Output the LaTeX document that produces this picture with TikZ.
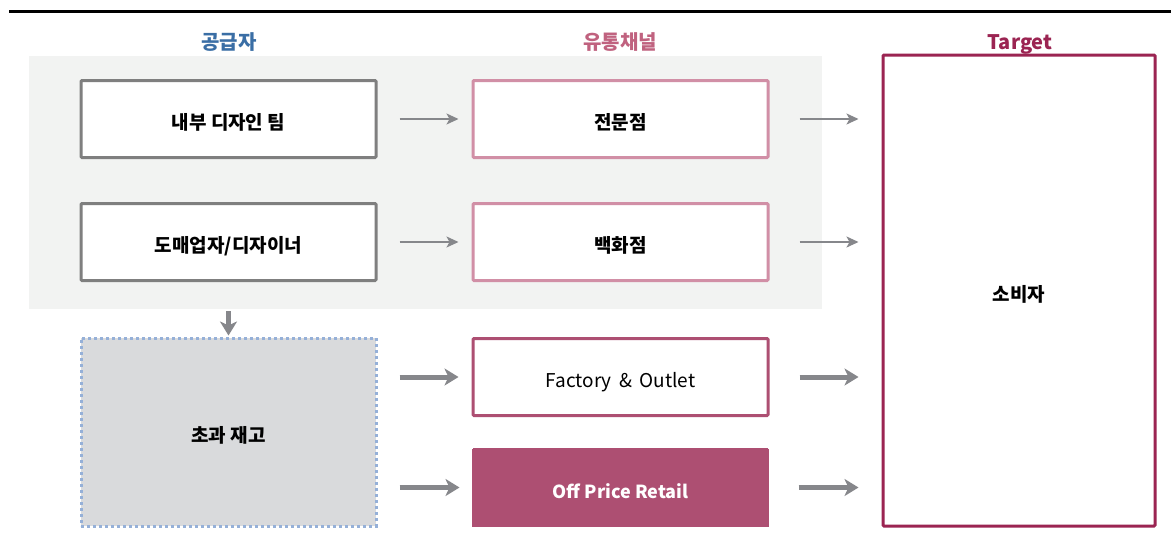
\documentclass[tikz,border=0pt]{standalone}
\usepackage{fontspec}
\setmainfont{Noto Sans CJK KR}
\usetikzlibrary{arrows.meta}
\definecolor{panelbg}{HTML}{F2F3F2}
\definecolor{graybd}{HTML}{7F7F7F}
\definecolor{pinklt}{HTML}{D18FA6}
\definecolor{pinkmd}{HTML}{AD4F72}
\definecolor{wine}{HTML}{9B2452}
\definecolor{titleblue}{HTML}{3A6EA5}
\definecolor{titlepink}{HTML}{C0627F}
\definecolor{stockfill}{HTML}{D9DADC}
\definecolor{dotblue}{HTML}{95B0D8}
\definecolor{arrowgray}{HTML}{86878B}
\tikzset{
  boxbase/.style={minimum width=295pt, minimum height=77pt, line width=3pt, rounded corners=1pt, inner sep=0pt, text height=21pt, text depth=0pt, font=\fontsize{19}{22}\selectfont},
  supbox/.style={boxbase, draw=graybd, fill=white, font=\fontsize{19}{22}\selectfont\bfseries},
  chanbox/.style={boxbase, draw=pinklt, fill=white, font=\fontsize{19}{22}\selectfont\bfseries},
  title/.style={text height=18pt, text depth=0pt, font=\fontsize{20}{23}\selectfont\bfseries},
  thinarrow/.style={draw=arrowgray, line width=1.6pt, -{Stealth[length=12pt,width=11pt,inset=3pt]}},
  thickarrow/.style={draw=arrowgray, line width=5pt, -{Stealth[length=14pt,width=17pt,inset=4pt]}},
}
\begin{document}
\begin{tikzpicture}[x=1pt,y=-1pt]
\useasboundingbox (0,0) rectangle (1171,533);
\fill[white] (0,0) rectangle (1171,533);
\draw[line width=3pt, black] (9,11) -- (1171,11);
% panel
\node[fill=panelbg, minimum width=793pt, minimum height=253pt, inner sep=0pt, anchor=north west] (panel) at (29,56) {};
% titles
\node[title, text=titleblue] (t1) at (229,40) {공급자};
\node[title, text=titlepink] (t2) at (620,40) {유통채널};
\node[title, text=wine] (t3) at (1020,40) {Target};
% supplier boxes
\node[supbox] (a1) at (228.5,119) {내부 디자인 팀};
\node[supbox] (a2) at (228.5,242) {도매업자/디자이너};
% stock
\node[boxbase, fill=stockfill, draw=dotblue, rounded corners=0pt, line width=3pt, dash pattern=on 3pt off 3pt, minimum height=188pt, font=\fontsize{19}{22}\selectfont\bfseries] (st) at (228.5,432) {초과 재고};
% channels
\node[chanbox] (b1) at (620.5,119) {전문점};
\node[chanbox] (b2) at (620.5,242) {백화점};
\node[boxbase, draw=pinkmd, fill=white] (b3) at (620.5,377) {Factory \,\&\, Outlet};
\node[boxbase, fill=pinkmd, draw=pinkmd, line width=0pt, minimum width=296pt, minimum height=78pt, text=white, font=\fontsize{18}{21}\selectfont\bfseries] (b4) at (620.5,487.5) {Off Price Retail};
% consumer
\node[draw=wine, fill=white, line width=3pt, rounded corners=1pt, minimum width=272pt, minimum height=471pt, inner sep=0pt, text height=21pt, text depth=0pt, font=\fontsize{19}{22}\selectfont\bfseries] (c) at (1019,290.5) {소비자};
% arrows
\draw[thinarrow, shorten <=22pt, shorten >=13pt] (a1.east) -- (b1.west);
\draw[thinarrow, shorten <=22pt, shorten >=13pt] (a2.east) -- (b2.west);
\draw[thinarrow, shorten <=30pt, shorten >=23pt] (b1.east) -- (b1.east -| c.west);
\draw[thinarrow, shorten <=30pt, shorten >=23pt] (b2.east) -- (b2.east -| c.west);
\draw[thickarrow, shorten <=22pt, shorten >=13pt] (st.east |- b3.west) -- (b3.west);
\draw[thickarrow, shorten <=22pt, shorten >=13pt] (st.east |- b4.west) -- (b4.west);
\draw[thickarrow, shorten <=30pt, shorten >=23pt] (b3.east) -- (b3.east -| c.west);
\draw[thickarrow, shorten <=30pt, shorten >=23pt] (b4.east) -- (b4.east -| c.west);
\draw[thickarrow, shorten <=2pt, shorten >=1pt] (panel.south -| st.north) -- (st.north);
\end{tikzpicture}
\end{document}
